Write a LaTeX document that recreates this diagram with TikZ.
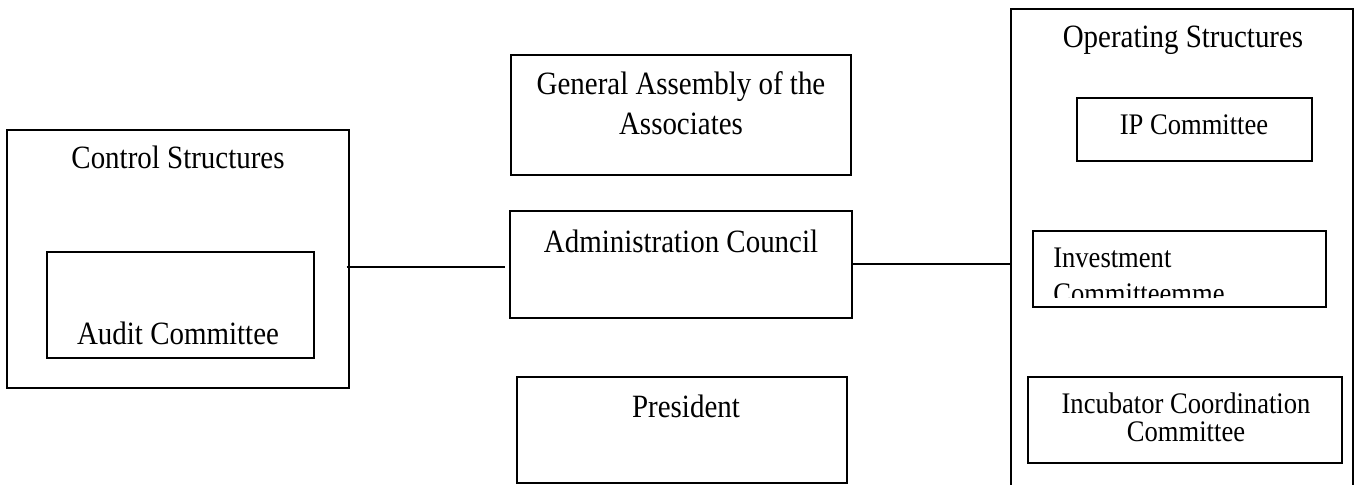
\documentclass[tikz,border=0pt]{standalone}
\usepackage{fontspec}
\setmainfont{Liberation Serif}
% slightly condensed serif for the box labels
\newfontfamily\labelfont[FakeStretch=0.89]{Liberation Serif}
\usetikzlibrary{fit}
\begin{document}
\begin{tikzpicture}[x=0.75pt,y=-0.75pt,
  box/.style={draw=black, line width=1.3pt, inner sep=0pt},
  link/.style={draw=black, line width=1.3pt},
  title/.style={anchor=base, inner sep=0pt, font=\labelfont\fontsize{24.4pt}{28pt}\selectfont},
  small/.style={anchor=base, inner sep=0pt, font=\labelfont\fontsize{22.4pt}{26pt}\selectfont}]
\useasboundingbox (0,0) rectangle (1360,485);
\clip (0,0) rectangle (1360,485);

% control structures
\node[box, fit={(7,130) (349,388)}] (ctrl) {};
\node[box, fit={(47,252) (314,358)}] (audit) {};
\node[title] (ctrlT) at (178,168) {Control Structures};
\node[title] (auditT) at (178,344) {Audit Committee};

% central bodies
\node[box, fit={(511,55) (851,175)}] (assembly) {};
\node[title] (assemblyT1) at (681,94) {General Assembly of the};
\node[title] (assemblyT2) at (681,134) {Associates};
\node[box, fit={(510,211) (852,318)}] (admin) {};
\node[title] (adminT) at (681,252) {Administration Council};
\node[box, fit={(517,377) (847,483)}] (president) {};
\node[title] (presidentT) at (686,417) {President};

% operating structures
\node[box, fit={(1011,9) (1353,500)}] (ops) {};
\node[title] (opsT) at (1183,48) {Operating Structures};
\node[box, fit={(1077,98) (1312,161)}] (ip) {};
\node[small] (ipT) at (1194,134) {IP Committee};
\node[box, fit={(1033,231) (1326,307)}] (invest) {};
\node[small, anchor=base west] (investT1) at (1053,267) {Investment};
\begin{scope}
  \clip (1033,231) rectangle (1326,297);
  \node[small, anchor=base west] (investT2) at (1053,303) {Committeemme};
\end{scope}
\node[box, fit={(1028,377) (1342,463)}] (incub) {};
\node[small] (incubT1) at (1186,413) {Incubator Coordination};
\node[small] (incubT2) at (1186,441) {Committee};

% connectors
\coordinate (leftrow) at (0,267);
\coordinate (rightrow) at (0,264);
\draw[link, shorten <=-2.5pt, shorten >=3pt] (ctrl.east |- leftrow) -- (admin.west |- leftrow);
\draw[link] (admin.east |- rightrow) -- (ops.west |- rightrow);
\end{tikzpicture}
\end{document}
